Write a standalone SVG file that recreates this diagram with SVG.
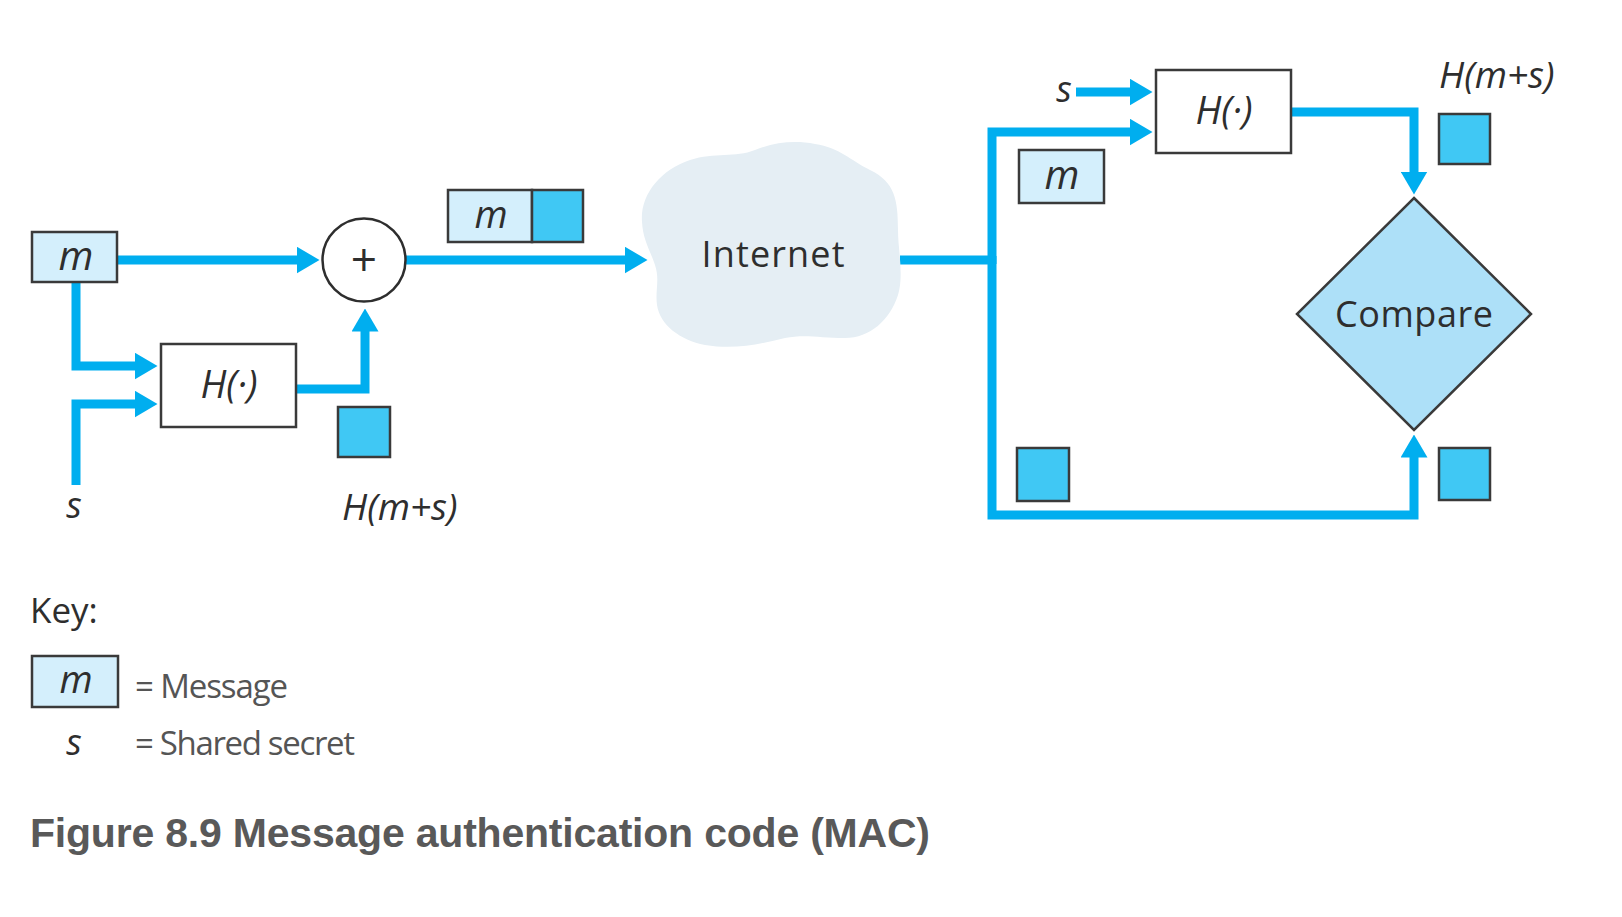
<svg xmlns="http://www.w3.org/2000/svg" width="1622" height="917" viewBox="0 0 1622 917">
<style>
  .conn { fill: none; stroke: #00aeef; stroke-width: 9; stroke-linejoin: miter; stroke-linecap: butt; }
  .bx { stroke: #3a3a3a; stroke-width: 2.5; }
  .msg { fill: #d4effc; }
  .mac { fill: #40c8f4; }
  .hb { fill: #ffffff; }
  .t { font-family: "Open Sans", "Noto Sans", "DejaVu Sans", sans-serif; fill: #2e2e2e; }
  .it { font-style: italic; }
  .key { fill: #555555; }
  .cap { font-family: "Liberation Sans", Arial, sans-serif; font-weight: bold; fill: #595959; }
</style>
<defs>
  <marker id="ah" viewBox="0 0 23 27" markerWidth="23" markerHeight="27" refX="0.5" refY="13.5" orient="auto" markerUnits="userSpaceOnUse">
    <path d="M0,0 L23,13.5 L0,27 Z" fill="#00aeef"/>
  </marker>
</defs>
<rect width="1622" height="917" fill="#ffffff"/>

<g id="connectors">
  <path class="conn" d="M117,260 H297" marker-end="url(#ah)"/>
  <path class="conn" d="M76,282 V366 H135" marker-end="url(#ah)"/>
  <path class="conn" d="M76,485 V404 H135" marker-end="url(#ah)"/>
  <path class="conn" d="M296,389 H365 V331" marker-end="url(#ah)"/>
  <path class="conn" d="M406,260 H625" marker-end="url(#ah)"/>
  <path class="conn" d="M900,260 H992"/>
  <path class="conn" d="M992,264 V132 H1130" marker-end="url(#ah)"/>
  <path class="conn" d="M992,256 V515 H1414 V457" marker-end="url(#ah)"/>
  <path class="conn" d="M1076,92 H1130" marker-end="url(#ah)"/>
  <path class="conn" d="M1291,112 H1414 V172" marker-end="url(#ah)"/>
</g>

<g id="msg-src">
  <rect class="bx msg" x="32" y="232" width="85" height="50"/>
  <text class="t it" x="76" y="270" font-size="40" text-anchor="middle">m</text>
</g>

<g id="s-src">
  <text class="t it" x="74" y="518" font-size="36" text-anchor="middle">s</text>
</g>

<g id="hash-send">
  <rect class="bx hb" x="161" y="344" width="135" height="83"/>
  <text class="t it" x="229" y="398" font-size="38" text-anchor="middle">H(·)</text>
</g>

<g id="mac-send">
  <rect class="bx mac" x="338" y="407" width="52" height="50"/>
  <text class="t it" x="342" y="520" font-size="37">H(m+s)</text>
</g>

<g id="concat">
  <circle cx="364" cy="260" r="41.5" fill="#ffffff" stroke="#2e2e2e" stroke-width="2.5"/>
  <text class="t" x="364" y="276" font-size="46" text-anchor="middle">+</text>
</g>

<g id="packet">
  <rect class="bx msg" x="448" y="190" width="84" height="52"/>
  <rect class="bx mac" x="532" y="190" width="51" height="52"/>
  <text class="t it" x="491" y="228" font-size="38" text-anchor="middle">m</text>
</g>

<g id="internet">
  <path fill="#e5eef4" d="M642,222 C640,195 660,170 690,160 C715,152 735,158 755,150 C775,142 795,140 815,144 C840,148 850,160 870,170 C895,182 898,200 898,230 C898,250 904,275 898,295 C890,320 870,338 845,338 C820,338 805,334 785,338 C760,344 735,350 705,345 C680,340 660,325 657,305 C655,290 660,280 655,265 C650,250 643,240 642,222 Z"/>
  <text class="t" x="773" y="267" font-size="36" text-anchor="middle" textLength="143">Internet</text>
</g>

<g id="msg-recv">
  <rect class="bx msg" x="1019" y="150" width="85" height="53"/>
  <text class="t it" x="1062" y="189" font-size="40" text-anchor="middle">m</text>
</g>

<g id="s-recv">
  <text class="t it" x="1064" y="102" font-size="36" text-anchor="middle">s</text>
</g>

<g id="hash-recv">
  <rect class="bx hb" x="1156" y="70" width="135" height="83"/>
  <text class="t it" x="1224" y="124" font-size="38" text-anchor="middle">H(·)</text>
</g>

<g id="mac-computed">
  <rect class="bx mac" x="1439" y="114" width="51" height="50"/>
  <text class="t it" x="1439" y="88" font-size="37">H(m+s)</text>
</g>

<g id="mac-recv">
  <rect class="bx mac" x="1017" y="448" width="52" height="53"/>
</g>

<g id="mac-recv2">
  <rect class="bx mac" x="1439" y="448" width="51" height="52"/>
</g>

<g id="compare">
  <polygon points="1414,198 1531,314 1414,430 1297,314" fill="#ade0f8" stroke="#3a3a3a" stroke-width="2.5"/>
  <text class="t" x="1414" y="327" font-size="36" text-anchor="middle" textLength="158">Compare</text>
</g>

<g id="legend">
  <text class="t" x="30" y="623" font-size="35">Key:</text>
  <rect class="bx msg" x="32" y="656" width="86" height="51"/>
  <text class="t it" x="76" y="693" font-size="38" text-anchor="middle">m</text>
  <text class="t key" x="135" y="698" font-size="33" textLength="153">= Message</text>
  <text class="t it" x="74" y="755" font-size="36" text-anchor="middle">s</text>
  <text class="t key" x="135" y="755" font-size="33" textLength="220">= Shared secret</text>
</g>

<g id="caption">
  <text class="cap" x="30" y="847" font-size="41" textLength="900">Figure 8.9 Message authentication code (MAC)</text>
</g>
</svg>
